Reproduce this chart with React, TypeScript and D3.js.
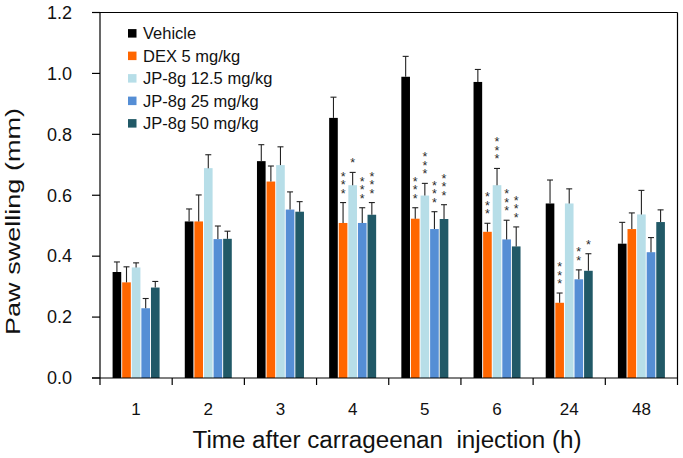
import React from "react";
import * as d3 from "d3";

const categories = ["1", "2", "3", "4", "5", "6", "24", "48"];
const seriesNames = ["Vehicle", "DEX 5 mg/kg", "JP-8g 12.5 mg/kg", "JP-8g 25 mg/kg", "JP-8g 50 mg/kg"];
const seriesColors = ["#000000", "#FF6600", "#B7DEE8", "#558ED5", "#215967"];

const vehicleMean = [0.348, 0.514, 0.712, 0.854, 0.989, 0.972, 0.573, 0.441];
const vehicleSem = [0.033, 0.041, 0.054, 0.068, 0.067, 0.041, 0.077, 0.070];
const dexMean = [0.314, 0.514, 0.645, 0.509, 0.523, 0.480, 0.247, 0.489];
const dexSem = [0.051, 0.087, 0.051, 0.067, 0.036, 0.028, 0.032, 0.053];
const jp125Mean = [0.363, 0.689, 0.699, 0.633, 0.599, 0.633, 0.573, 0.537];
const jp125Sem = [0.015, 0.044, 0.060, 0.042, 0.040, 0.055, 0.048, 0.079];
const jp25Mean = [0.229, 0.456, 0.553, 0.509, 0.489, 0.455, 0.324, 0.413];
const jp25Sem = [0.032, 0.043, 0.058, 0.050, 0.057, 0.063, 0.031, 0.048];
const jp50Mean = [0.297, 0.457, 0.546, 0.536, 0.522, 0.432, 0.352, 0.512];
const jp50Sem = [0.020, 0.025, 0.033, 0.040, 0.047, 0.064, 0.056, 0.040];

const vehicleStars = ["", "", "", "", "", "", "", ""];
const dexStars = ["", "", "", "***", "***", "***", "***", ""];
const jp125Stars = ["", "", "", "*", "***", "***", "", ""];
const jp25Stars = ["", "", "", "***", "***", "***", "**", ""];
const jp50Stars = ["", "", "", "***", "***", "***", "*", ""];

const yTicks = [0, 0.2, 0.4, 0.6, 0.8, 1.0, 1.2];

const means = [vehicleMean, dexMean, jp125Mean, jp25Mean, jp50Mean];
const sems = [vehicleSem, dexSem, jp125Sem, jp25Sem, jp50Sem];
const stars = [vehicleStars, dexStars, jp125Stars, jp25Stars, jp50Stars];

const FONT = "'Liberation Sans', Arial, Helvetica, sans-serif";

export default function App() {
  const W = 683, H = 458;
  const left = 100, right = 677.5, top = 12.5, bottom = 378;
  const x = d3.scaleBand<string>().domain(categories).range([left, right]).paddingInner(0).paddingOuter(0);
  const y = d3.scaleLinear().domain([0, 1.2]).range([bottom, top]);
  const x1 = d3.scaleBand<number>().domain(d3.range(seriesNames.length)).range([-23.5, 23.5]).paddingInner(0.1);
  const bw = x1.bandwidth();
  const boundaries = categories.map((c) => x(c) as number).concat([right]);

  return (
    <svg width={W} height={H} style={{ position: "absolute", left: 0, top: 0, background: "#fff" }} fontFamily={FONT}>
      <rect x={0} y={0} width={W} height={H} fill="#fff" />
      {/* bars */}
      {categories.map((c, ci) => {
        const cx = (x(c) as number) + x.bandwidth() / 2;
        return (
          <g key={c}>
            {seriesNames.map((s, si) => {
              const bx = cx + (x1(si) as number);
              const v = means[si][ci];
              const e = v + sems[si][ci];
              const mid = bx + bw / 2;
              const st = stars[si][ci];
              return (
                <g key={s}>
                  <rect x={bx} y={y(v)} width={bw} height={bottom - y(v)} fill={seriesColors[si]} />
                  <line x1={mid} x2={mid} y1={y(v)} y2={y(e)} stroke="#222" strokeWidth={1.1} />
                  <line x1={mid - 3} x2={mid + 3} y1={y(e)} y2={y(e)} stroke="#222" strokeWidth={1.1} />
                  {st.split("").map((ch, k) => (
                    <text key={k} x={mid} y={y(e) - 12 - k * 8.5 + 7} textAnchor="middle" fontSize={12.5} fill="#2a2a2a">
                      {ch}
                    </text>
                  ))}
                </g>
              );
            })}
          </g>
        );
      })}
      {/* frame */}
      <line x1={left} x2={right} y1={top} y2={top} stroke="#000" strokeWidth={1.2} />
      <line x1={right} x2={right} y1={top} y2={bottom} stroke="#000" strokeWidth={1.2} />
      <line x1={left} x2={left} y1={top} y2={bottom} stroke="#000" strokeWidth={1.2} />
      <line x1={left - 8} x2={right} y1={bottom} y2={bottom} stroke="#000" strokeWidth={1.2} />
      {/* y ticks */}
      {yTicks.map((t) => (
        <g key={t}>
          <line x1={left - 8} x2={left} y1={y(t)} y2={y(t)} stroke="#000" strokeWidth={1.2} />
          <text x={72} y={y(t)} dy="0.35em" textAnchor="end" fontSize={18} fill="#111">
            {t.toFixed(1)}
          </text>
        </g>
      ))}
      {/* x ticks */}
      {boundaries.map((b, i) => (
        <line key={i} x1={b} x2={b} y1={bottom} y2={bottom + 7} stroke="#000" strokeWidth={1.2} />
      ))}
      {categories.map((c) => (
        <text key={c} x={(x(c) as number) + x.bandwidth() / 2} y={415} textAnchor="middle" fontSize={17} fill="#111">
          {c}
        </text>
      ))}
      {/* axis titles */}
      <text x={387} y={448} textAnchor="middle" fontSize={23} fill="#111" style={{ whiteSpace: "pre" }} textLength={389} lengthAdjust="spacingAndGlyphs">
        {"Time after carrageenan  injection (h)"}
      </text>
      <text transform={`translate(20,221.5) rotate(-90)`} textAnchor="middle" fontSize={21} fill="#111" textLength={227} lengthAdjust="spacingAndGlyphs">
        Paw swelling (mm)
      </text>
      {/* legend */}
      {seriesNames.map((s, i) => (
        <g key={s} transform={`translate(128,${33.3 + i * 22.5})`}>
          <rect x={0} y={-4.2} width={8.5} height={8.5} fill={seriesColors[i]} />
          <text x={15} y={0} dy="0.35em" fontSize={16.5} fill="#111">
            {s}
          </text>
        </g>
      ))}
    </svg>
  );
}
